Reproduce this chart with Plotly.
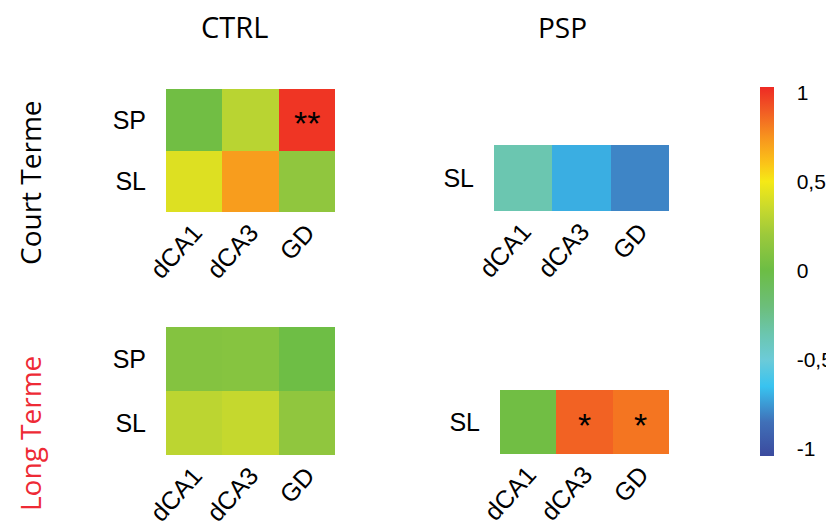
import plotly.graph_objects as go

# data
regions = ['dCA1', 'dCA3', 'GD']
rows_ctrl = ['SL', 'SP']
rows_psp = ['SL']

ctrl_court = [[0.42, 0.72, 0.15],   # SL
              [0.02, 0.30, 1.00]]   # SP
psp_court = [[-0.36, -0.70, -0.80]]
ctrl_long = [[0.31, 0.34, 0.15],
             [0.10, 0.11, 0.01]]
psp_long = [[0.02, 0.88, 0.83]]

# significance marks: (panel, region, row, text)
stars = [('ctrl_court', 'GD', 'SP', '**'),
         ('psp_long', 'dCA3', 'SL', '*'),
         ('psp_long', 'GD', 'SL', '*')]

cbar_vals = [1, 0.5, 0, -0.5, -1]
cbar_text = ['1', '0,5', '0', '-0,5', '-1']

# page body has an 8px margin, so the figure is drawn 8px in from the corner
OFF = 8
W, H = 834 - OFF, 532 - OFF
CMIN, CMAX = -1.04, 1.03

# colour stops given in data space, converted to 0..1
stops = [(-1.04, '#3b4a9e'), (-0.85, '#4070b8'), (-0.65, '#38c3f0'),
         (-0.5, '#6ccbd8'), (-0.36, '#6bc6b0'), (-0.2, '#6cbe7a'),
         (0.0, '#6cbd45'), (0.2, '#9cc93b'), (0.35, '#c8d92d'),
         (0.5, '#f5e916'), (0.6, '#fbc418'), (0.75, '#f7931e'),
         (0.9, '#f15a24'), (1.03, '#ee2a24')]
colorscale = [[(v - CMIN) / (CMAX - CMIN), c] for v, c in stops]


def px_x(p):
    return (p - OFF) / W


def px_y(p):
    return 1 - (p - OFF) / H


def xdom(a, b):
    return [px_x(a), px_x(b)]


def ydom(top, bottom):
    return [px_y(bottom), px_y(top)]


panels = {
    'ctrl_court': (ctrl_court, rows_ctrl, 'x', 'y', xdom(166, 335), ydom(89, 212)),
    'psp_court': (psp_court, rows_psp, 'x2', 'y2', xdom(494, 669), ydom(145, 211)),
    'ctrl_long': (ctrl_long, rows_ctrl, 'x3', 'y3', xdom(166, 335), ydom(327, 455)),
    'psp_long': (psp_long, rows_psp, 'x4', 'y4', xdom(500, 669), ydom(390, 454)),
}

tick_font = dict(family='Liberation Sans, Arial', size=25, color='black')
title_font = dict(family='Open Sans', size=28, color='black')

fig = go.Figure()
layout = {}
for name, (z, rows, xa, ya, xd, yd) in panels.items():
    fig.add_trace(go.Heatmap(
        z=z, x=regions, y=rows, xaxis=xa, yaxis=ya,
        coloraxis='coloraxis', hoverinfo='skip'
    ))
    xkey = 'xaxis' + xa[1:]
    ykey = 'yaxis' + ya[1:]
    layout[xkey] = dict(
        domain=xd, anchor=ya, type='category', range=[-0.5, 2.5],
        automargin=False,
        showgrid=False, zeroline=False, showline=False,
        tickangle=-48, tickfont=tick_font, ticks=''
    )
    layout[ykey] = dict(
        domain=yd, anchor=xa, type='category', range=[-0.5, len(rows) - 0.5],
        automargin=False,
        showgrid=False, zeroline=False, showline=False,
        tickfont=tick_font,
        ticks='outside', ticklen=14, tickcolor='rgba(0,0,0,0)'
    )

annotations = [
    dict(text='CTRL', x=px_x(234), y=px_y(27), xref='paper', yref='paper',
         showarrow=False, font=dict(family='Open Sans', size=29, color='black'),
         xanchor='center', yanchor='middle'),
    dict(text='PSP', x=px_x(562), y=px_y(27), xref='paper', yref='paper',
         showarrow=False, font=title_font, xanchor='center', yanchor='middle'),
    dict(text='Court Terme', x=px_x(30), y=px_y(183), xref='paper', yref='paper',
         showarrow=False, font=title_font, textangle=-90,
         xanchor='center', yanchor='middle'),
    dict(text='Long Terme', x=px_x(30), y=px_y(434), xref='paper', yref='paper',
         showarrow=False, font=dict(family='Open Sans', size=28, color='#ee2a35'),
         textangle=-90, xanchor='center', yanchor='middle'),
]
for panel, reg, row, txt in stars:
    xa, ya = panels[panel][2], panels[panel][3]
    annotations.append(dict(
        text=txt, x=reg, y=row, xref=xa, yref=ya, showarrow=False,
        font=dict(family='Liberation Sans, Arial', size=34, color='black'),
        yshift=-3
    ))

fig.update_layout(
    width=W, height=H,
    margin=dict(l=0, r=0, t=0, b=0, autoexpand=False),
    paper_bgcolor='white', plot_bgcolor='white',
    showlegend=False,
    annotations=annotations,
    coloraxis=dict(
        colorscale=colorscale, cmin=CMIN, cmax=CMAX,
        colorbar=dict(
            x=px_x(760), xanchor='left', xpad=0,
            y=px_y(456), yanchor='bottom', ypad=0,
            len=(456 - 87) / H, lenmode='fraction',
            thickness=14, thicknessmode='pixels',
            outlinewidth=0,
            tickvals=cbar_vals, ticktext=cbar_text,
            ticks='outside', ticklen=19, tickcolor='rgba(0,0,0,0)',
            tickfont=dict(family='Liberation Sans, Arial', size=21, color='black')
        )
    ),
    **layout
)

fig.write_html("out.html")
